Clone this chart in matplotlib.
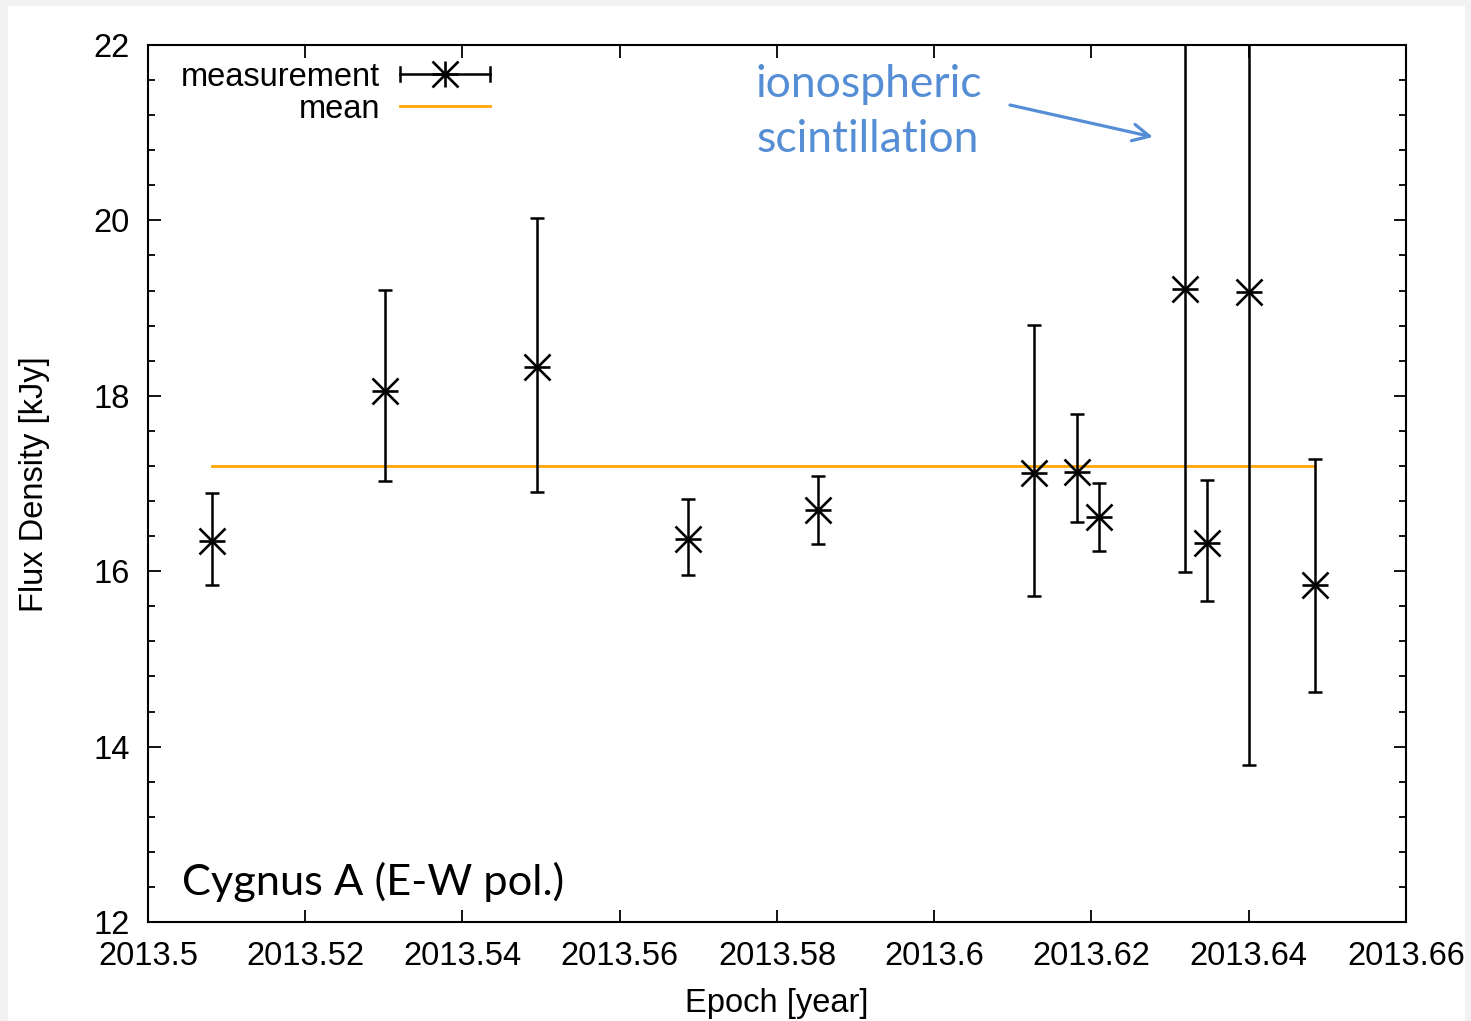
import matplotlib
matplotlib.use("Agg")
import matplotlib.pyplot as plt
from matplotlib.patches import Rectangle
import numpy as np

# ---- data ----
epoch = [2013.5081, 2013.5301, 2013.5495, 2013.5687, 2013.5852, 2013.6127,
         2013.6182, 2013.6210, 2013.6319, 2013.6347, 2013.6400, 2013.6484]
flux = [16.34, 18.05, 18.33, 16.37, 16.70, 17.12, 17.13, 16.62, 19.22, 16.32, 19.18, 15.84]
flux_low = [15.84, 17.03, 16.90, 15.96, 16.31, 15.72, 16.56, 16.23, 15.99, 15.66, 13.79, 14.62]
flux_high = [16.89, 19.21, 20.03, 16.82, 17.09, 18.81, 17.79, 17.01, 22.45, 17.04, 24.57, 17.28]
mean_flux = 17.20
xticks = [2013.5, 2013.52, 2013.54, 2013.56, 2013.58, 2013.6, 2013.62, 2013.64, 2013.66]
xticklabels = ["2013.5", "2013.52", "2013.54", "2013.56", "2013.58", "2013.6",
               "2013.62", "2013.64", "2013.66"]
yticks = [12, 14, 16, 18, 20, 22]

W, H = 1471, 1021
fig = plt.figure(figsize=(W / 100, H / 100), dpi=100, facecolor="#f2f2f2")
fig.patches.append(Rectangle((8 / W, 0), (1465 - 8) / W, (H - 6) / H,
                             transform=fig.transFigure, facecolor="white",
                             edgecolor="none", zorder=-10))
# gray strip on the right drawn on top (clips the last tick label like the original)
fig.patches.append(Rectangle((1465 / W, 0), (W - 1465) / W, 1,
                             transform=fig.transFigure, facecolor="#f2f2f2",
                             edgecolor="none", zorder=20))

L, R, T, B = 148, 1406, 45, 922
ax = fig.add_axes([L / W, 1 - B / H, (R - L) / W, (B - T) / H])
ax.set_facecolor("white")

sans = ["Liberation Sans", "DejaVu Sans"]
fs = 23.5

ep = np.array(epoch)
fl = np.array(flux)
lo = fl - np.array(flux_low)
hi = np.array(flux_high) - fl

ax.plot([ep[0], ep[-1]], [mean_flux, mean_flux], color="#FFA500", lw=2.0, zorder=2)
ax.errorbar(ep, fl, yerr=[lo, hi], fmt="none", ecolor="black", elinewidth=1.8,
            capsize=5, capthick=1.8, zorder=3)
ax.plot(ep, fl, ls="none", marker="x", ms=19, mew=1.9, color="black", zorder=4)
ax.plot(ep, fl, ls="none", marker="_", ms=19, mew=1.9, color="black", zorder=4)

ax.set_xlim(2013.5, 2013.66)
ax.set_ylim(12, 22)
ax.set_xticks(xticks)
ax.set_xticklabels(xticklabels)
ax.set_yticks(yticks)
ax.set_yticks(np.arange(12, 22.01, 0.4), minor=True)
ax.tick_params(which="both", direction="in", top=True, right=True, width=1.3,
               labelsize=fs)
ax.tick_params(which="major", length=9)
ax.tick_params(which="minor", length=5)
ax.tick_params(axis="x", pad=14)
ax.tick_params(axis="y", pad=13)
for lab in ax.get_xticklabels() + ax.get_yticklabels():
    lab.set_family(sans)
for s in ax.spines.values():
    s.set_linewidth(1.5)

fig.text(777 / W, 1 - 1003 / H, "Epoch [year]", ha="center", va="center",
         fontsize=fs, family=sans)
fig.text(35 / W, 1 - 484 / H, "Flux Density [kJy]", ha="center", va="center",
         rotation=90, fontsize=fs, family=sans)

# legend (drawn in axes fraction)
def afx(px):
    return (px - L) / (R - L)

def afy(py):
    return (B - py) / (B - T)

ax.text(afx(380), afy(77), "measurement", ha="right", va="center", fontsize=fs,
        family=sans, transform=ax.transAxes)
ax.text(afx(380), afy(109), "mean", ha="right", va="center", fontsize=fs,
        family=sans, transform=ax.transAxes)
ax.plot([afx(400), afx(490)], [afy(74), afy(74)], color="black", lw=1.8,
        transform=ax.transAxes, clip_on=False)
for xx in (400, 490):
    ax.plot([afx(xx), afx(xx)], [afy(81), afy(67)], color="black", lw=1.8,
            transform=ax.transAxes, clip_on=False)
for m in ("x", "+"):
    ax.plot([afx(445)], [afy(74)], ls="none", marker=m, ms=19, mew=1.9,
            color="black", transform=ax.transAxes, clip_on=False)
ax.plot([afx(400), afx(490)], [afy(106), afy(106)], color="#FFA500", lw=2.0,
        transform=ax.transAxes, clip_on=False)

# annotations
ax.text(afx(182), afy(895), "Cygnus A (E-W pol.)", ha="left", va="baseline",
        fontsize=31.2, family=["Lato", "DejaVu Sans"], transform=ax.transAxes)
blue = "#558ED5"
ax.text(afx(756), afy(97), "ionospheric", ha="left", va="baseline",
        fontsize=32, color=blue, family=["Lato", "DejaVu Sans"], transform=ax.transAxes)
ax.text(afx(756), afy(152), "scintillation", ha="left", va="baseline",
        fontsize=32, color=blue, family=["Lato", "DejaVu Sans"], transform=ax.transAxes)
ax.annotate("", xy=(afx(1153), afy(137)), xytext=(afx(1010), afy(105)),
            xycoords="axes fraction", textcoords="axes fraction",
            arrowprops=dict(arrowstyle="->", color=blue, lw=2.3,
                            mutation_scale=30, shrinkA=0, shrinkB=0))

fig.savefig("out.png", dpi=100, facecolor=fig.get_facecolor())
